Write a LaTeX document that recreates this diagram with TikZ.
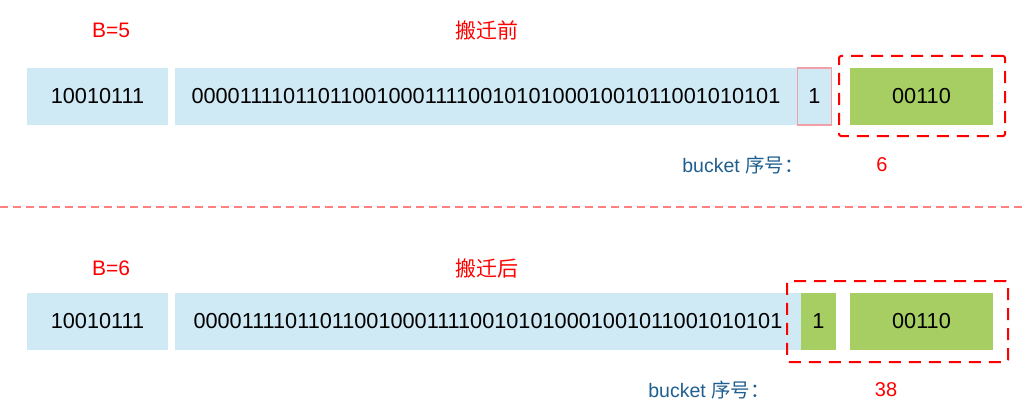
\documentclass[tikz,border=0pt]{standalone}
\usepackage{fontspec}
\setmainfont{Liberation Sans}
\newfontfamily\cjk{Noto Sans CJK SC}
\definecolor{lblue}{HTML}{CFEAF5}
\definecolor{lgreen}{HTML}{A6CE63}
\definecolor{bred}{HTML}{FF0000}
\definecolor{bktblue}{HTML}{1F5F8F}
\definecolor{pinkb}{HTML}{F0A0A8}
\definecolor{sepred}{HTML}{FF8080}
\begin{document}
\begin{tikzpicture}[x=1pt,y=-1pt,
  cell/.style={rectangle,inner sep=0pt,minimum height=57pt,font=\fontsize{21.7}{25}\selectfont},
  bluecell/.style={cell,fill=lblue},
  greencell/.style={cell,fill=lgreen},
  redlabel/.style={text=bred,font=\fontsize{21}{24}\selectfont,inner sep=0pt},
  bktlabel/.style={text=bktblue,font=\fontsize{19.5}{23}\selectfont,inner sep=0pt},
  numlabel/.style={text=bred,font=\fontsize{20}{23}\selectfont,inner sep=0pt},
  dashbox/.style={rectangle,draw=bred,line width=2pt,dash pattern=on 12pt off 8pt,rounded corners=2pt,inner sep=0pt}]
\useasboundingbox (0,0) rectangle (1024,417);
% top row
\node[redlabel] (b5) at (111,30) {B=5};
\node[redlabel] (before) at (487,30) {\cjk 搬迁前};
\node[bluecell,minimum width=141pt] (a1) at (97.5,96.5) {10010111};
\node[bluecell,minimum width=622pt] (h1) at (486,96.5) {00001111011011001000111100101010001001011001010101};
\node[bluecell,minimum width=34pt,draw=pinkb,line width=1.2pt] (o1) at (814.5,96.5) {1};
\node[greencell,minimum width=143pt] (g1) at (921.5,96.5) {00110};
\node[dashbox,minimum width=166pt,minimum height=80pt] (d1) at (922,96) {};
\node[bktlabel] (bk1) at (743,165) {bucket {\cjk 序号：}};
\node[numlabel] (n1) at (882,165) {6};
% separator
\coordinate (s1) at (0,207);
\coordinate (s2) at (1024,207);
\draw[sepred,line width=1.5pt,dash pattern=on 8pt off 5pt] (s1) -- (s2);
% bottom row
\node[redlabel] (b6) at (111,268) {B=6};
\node[redlabel] (after) at (487,268) {\cjk 搬迁后};
\node[bluecell,minimum width=141pt] (a2) at (97.5,321.5) {10010111};
\node[bluecell,minimum width=626pt] (h2) at (488,321.5) {00001111011011001000111100101010001001011001010101};
\node[greencell,minimum width=35pt] (o2) at (818.5,321.5) {1};
\node[greencell,minimum width=143pt] (g2) at (921.5,321.5) {00110};
\node[dashbox,minimum width=221pt,minimum height=81pt] (d2) at (897.5,321.5) {};
\node[bktlabel] (bk2) at (709,390) {bucket {\cjk 序号：}};
\node[numlabel] (n2) at (886,390) {38};
\end{tikzpicture}
\end{document}
